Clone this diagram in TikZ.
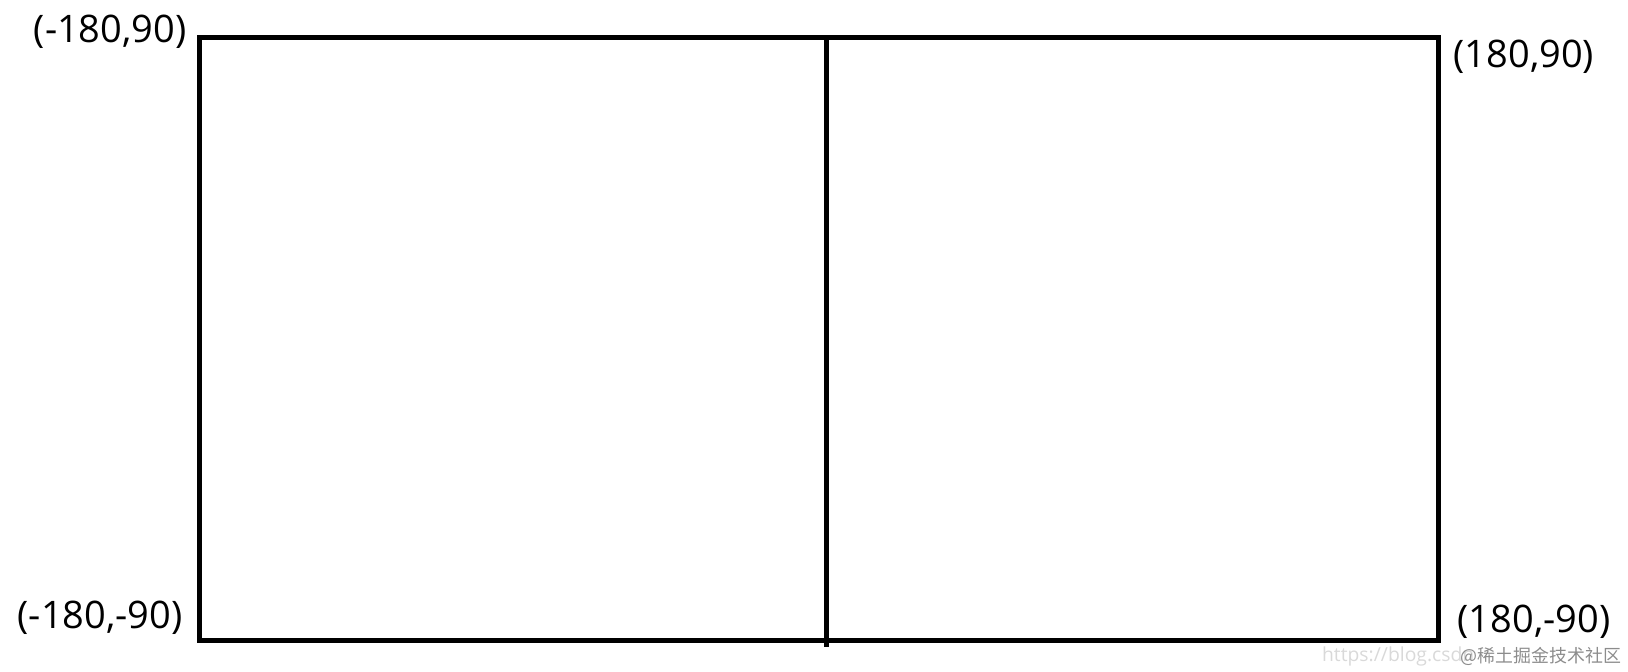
\documentclass[tikz,border=0pt]{standalone}
\usepackage{fontspec}
\setmainfont{Open Sans}
\newfontfamily\cjkfont{Noto Sans CJK SC}
\usetikzlibrary{positioning}

\begin{document}
\begin{tikzpicture}[
    x = 0.1mm, y = -0.1mm, % one unit is one pixel, y runs down
    frame/.style = {draw = black, line width = 0.5mm},
    corner/.style = {font = \fontsize{10.8}{13}\selectfont, inner sep = 0pt},
    wmark/.style = {inner sep = 0pt}
    ]
    \useasboundingbox (0,0) rectangle (1628,671);

    % corners of the map
    \coordinate (tl) at (199,37);
    \coordinate (tr) at (1438,37);
    \coordinate (bl) at (199,640);
    \coordinate (br) at (1438,640);
    \coordinate (mt) at (826,37);
    \coordinate (mb) at (826,647);

    \draw[frame] (tl) rectangle (br);
    \draw[frame] (mt) -- (mb);

    \node[corner, anchor=east, xshift=-1.2mm, yshift=0.5mm] (ntl) at (tl) {(-180,90)};
    \node[corner, anchor=west, xshift=1.5mm, yshift=-2mm] (ntr) at (tr) {(180,90)};
    \node[corner, anchor=east, xshift=-1.6mm, yshift=2.2mm] (nbl) at (bl) {(-180,-90)};
    \node[corner, anchor=west, xshift=1.9mm, yshift=1.8mm] (nbr) at (br) {(180,-90)};

    % watermark
    \node[wmark, anchor=east, font=\fontsize{5.5}{6}\selectfont, black!15] (url) at (1475,656) {https://blog.csdn};
    \node[wmark, anchor=east, font=\fontsize{5.1}{6}\cjkfont, black!45] (wm) at (1622,656) {@稀土掘金技术社区};
\end{tikzpicture}
\end{document}
